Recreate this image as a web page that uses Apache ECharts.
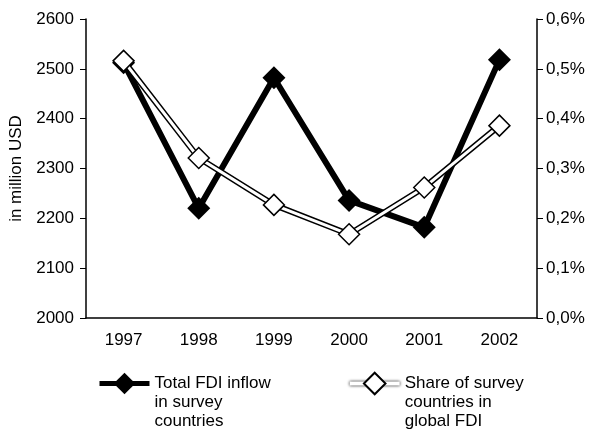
<!DOCTYPE html>
<html>
<head>
<meta charset="utf-8">
<script src="https://cdn.jsdelivr.net/npm/echarts@6/dist/echarts.min.js"></script>
<style>
  html, body { margin: 0; padding: 0; background: #fff; }
  #chart { width: 592px; height: 430px; }
</style>
</head>
<body>
<div id="chart"></div>
<script>
const years = ['1997', '1998', '1999', '2000', '2001', '2002']
const fdiInflow = [2512, 2220, 2482, 2236, 2182, 2518]
const shareGlobal = [0.516, 0.321, 0.227, 0.168, 0.262, 0.386]
const inflowName = 'Total FDI inflow\nin survey\ncountries'
const shareName = 'Share of survey\ncountries in\nglobal FDI'

const font = 'Liberation Sans, Arial, sans-serif'
const chart = echarts.init(document.getElementById('chart'))

chart.setOption({
  animation: false,
  textStyle: { fontFamily: font, color: '#000' },
  grid: { left: 86, right: 55, top: 19, bottom: 112 },
  legend: {
    left: 92,
    top: 331,
    itemWidth: 50,
    itemHeight: 27,
    itemGap: 77,
    // two blank lines on top so the first text line sits level with the icon
    formatter: name => '\n\n' + name,
    textStyle: { fontSize: 17, lineHeight: 19, color: '#000' },
    data: [
      {
        name: inflowName,
        lineStyle: { color: '#000', width: 5 }
      },
      {
        name: shareName,
        lineStyle: { color: '#fff', width: 4, shadowColor: '#000', shadowBlur: 3 }
      }
    ]
  },
  xAxis: {
    type: 'category',
    data: years,
    boundaryGap: true,
    axisLine: { lineStyle: { color: '#000', width: 1.5 } },
    axisTick: { length: 5, lineStyle: { color: '#000' } },
    axisLabel: { fontSize: 17, color: '#000', margin: 14 }
  },
  yAxis: [
    {
      type: 'value',
      min: 2000,
      max: 2600,
      interval: 100,
      name: 'in million USD',
      nameLocation: 'middle',
      nameGap: 53,
      nameTextStyle: { fontSize: 17, color: '#000' },
      axisLine: { show: true, lineStyle: { color: '#000', width: 1.5 } },
      axisTick: { show: true, length: 6, lineStyle: { color: '#000' } },
      axisLabel: { fontSize: 17, color: '#000', margin: 12, formatter: v => String(v) },
      splitLine: { show: false }
    },
    {
      type: 'value',
      min: 0,
      max: 0.6,
      interval: 0.1,
      position: 'right',
      axisLine: { show: true, lineStyle: { color: '#000', width: 1.5 } },
      axisTick: { show: true, length: 6, lineStyle: { color: '#000' } },
      axisLabel: {
        fontSize: 17,
        color: '#000',
        margin: 9,
        formatter: v => v.toFixed(1).replace('.', ',') + '%'
      },
      splitLine: { show: false }
    }
  ],
  series: [
    {
      name: inflowName,
      type: 'line',
      data: fdiInflow,
      yAxisIndex: 0,
      symbol: 'diamond',
      symbolSize: 23,
      lineStyle: { color: '#000', width: 6 },
      itemStyle: { color: '#000' },
      z: 2
    },
    {
      // black outline under the white share line
      name: 'outline',
      type: 'line',
      data: shareGlobal,
      yAxisIndex: 1,
      symbol: 'none',
      lineStyle: { color: '#000', width: 6 },
      z: 3
    },
    {
      name: shareName,
      type: 'line',
      data: shareGlobal,
      yAxisIndex: 1,
      symbol: 'diamond',
      symbolSize: 21,
      lineStyle: { color: '#fff', width: 3 },
      itemStyle: { color: '#fff', borderColor: '#000', borderWidth: 1.5 },
      z: 4
    }
  ]
})
</script>
</body>
</html>
